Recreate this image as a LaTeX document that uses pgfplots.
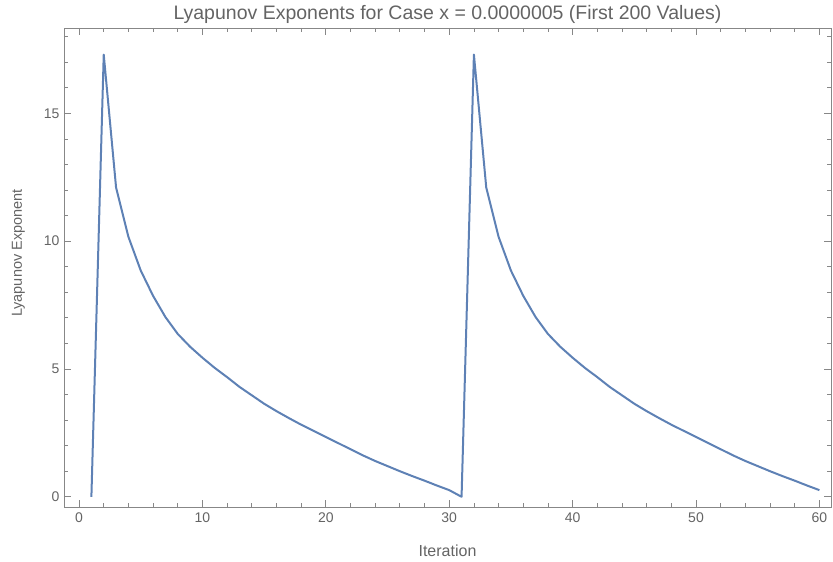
\documentclass[border=0pt]{standalone}
\usepackage{pgfplots}
\pgfplotsset{compat=1.18}
\usepackage{pgfplotstable}
\usepackage{fontspec}
\setmainfont{Liberation Sans}
\definecolor{txtgray}{RGB}{100,100,100}
\definecolor{frmgray}{RGB}{135,135,135}
\definecolor{mblue}{RGB}{94,129,181}
\pgfplotstableread{
k y
1 0.00
2 17.30
3 12.10
4 10.17
5 8.85
6 7.86
7 7.03
8 6.37
9 5.87
10 5.44
11 5.04
12 4.68
13 4.30
14 3.97
15 3.64
16 3.35
17 3.08
18 2.82
19 2.58
20 2.34
21 2.10
22 1.86
23 1.62
24 1.40
25 1.20
26 1.00
27 0.81
28 0.63
29 0.44
30 0.26
31 0.00
32 17.30
33 12.10
34 10.17
35 8.85
36 7.86
37 7.03
38 6.37
39 5.87
40 5.44
41 5.04
42 4.68
43 4.30
44 3.97
45 3.64
46 3.35
47 3.08
48 2.82
49 2.58
50 2.34
51 2.10
52 1.86
53 1.62
54 1.40
55 1.20
56 1.00
57 0.81
58 0.63
59 0.44
60 0.26
}\lyap
\begin{document}
\begin{tikzpicture}
\begin{axis}[
  scale only axis,
  width=767pt, height=479pt,
  xmin=-1.22, xmax=60.94,
  ymin=-0.40, ymax=18.34,
  axis line style={frmgray, line width=0.9pt},
  tick style={frmgray, line width=0.8pt},
  tick align=inside,
  major tick length=7pt,
  minor tick length=4pt,
  xtick={0,10,20,30,40,50,60},
  minor xtick={2,4,6,8,12,14,16,18,22,24,26,28,32,34,36,38,42,44,46,48,52,54,56,58},
  ytick={0,5,10,15},
  minor ytick={1,2,3,4,6,7,8,9,11,12,13,14,16,17,18},
  /pgf/number format/assume math mode=true,
  tick label style={font=\fontsize{14}{16}\selectfont, text=txtgray},
  xticklabel style={yshift=-2pt},
  yticklabel style={xshift=-1pt},
  title={Lyapunov Exponents for Case x = 0.0000005 (First 200 Values)},
  title style={font=\fontsize{19.5}{22}\selectfont, text=txtgray, at={(axis description cs:0.5,1)}, anchor=center, yshift=8pt},
  xlabel={Iteration},
  ylabel={Lyapunov Exponent},
  xlabel style={font=\fontsize{16}{18}\selectfont, text=txtgray, at={(axis description cs:0.5,0)}, anchor=center, yshift=-44pt},
  ylabel style={font=\fontsize{14.5}{17}\selectfont, text=txtgray, at={(axis description cs:0,0.53)}, anchor=center, yshift=45.5pt},
  clip=false,
]
\addplot[mblue, line width=2pt, line join=round, mark=none] table[x=k, y=y] {\lyap};
\coordinate (sw) at (rel axis cs:0,0);
\coordinate (ne) at (rel axis cs:1,1);
\end{axis}
\pgfresetboundingbox
\path[use as bounding box] ([shift={(-64pt,-55pt)}]sw) rectangle ([shift={(2pt,28pt)}]ne);
\end{tikzpicture}
\end{document}
